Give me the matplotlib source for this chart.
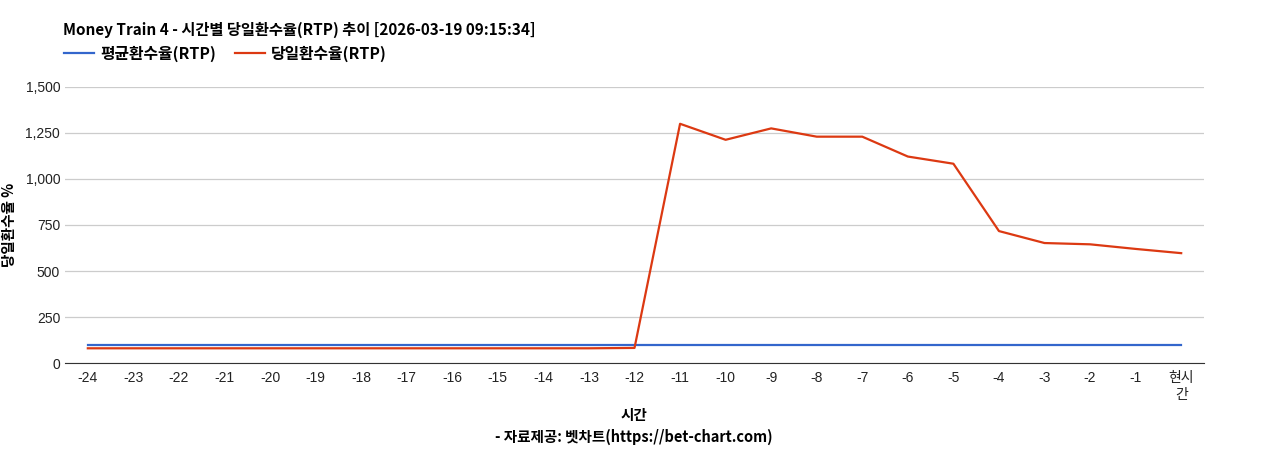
import matplotlib
matplotlib.use("Agg")
import matplotlib.pyplot as plt
from matplotlib.ticker import FuncFormatter

plt.rcParams['font.family'] = ['Liberation Sans', 'Noto Sans CJK KR', 'DejaVu Sans']
KR = ['Noto Sans CJK KR', 'DejaVu Sans']

# 시간 축 라벨
hours = ['-24', '-23', '-22', '-21', '-20', '-19', '-18', '-17', '-16', '-15', '-14', '-13',
         '-12', '-11', '-10', '-9', '-8', '-7', '-6', '-5', '-4', '-3', '-2', '-1', '현시\n간']
avg_rtp = [96] * 25
today_rtp = [80, 80, 80, 80, 80, 80, 80, 80, 80, 80, 80, 80,
             82, 1300, 1213, 1275, 1230, 1230, 1122, 1083, 717, 652, 645, 620, 597]

title = 'Money Train 4 - 시간별 당일환수율(RTP) 추이 [2026-03-19 09:15:34]'

fig = plt.figure(figsize=(12.68, 4.5), dpi=100)
ax = fig.add_axes([0.0513, 0.1933, 0.8982, 0.6134])

x = list(range(len(hours)))
ax.plot(x, avg_rtp, color='#3366cc', lw=1.6, label='평균환수율(RTP)')
ax.plot(x, today_rtp, color='#dc3912', lw=1.6, label='당일환수율(RTP)')

ax.set_xlim(-0.5, len(hours) - 0.5)
ax.set_ylim(0, 1500)
ax.set_yticks([0, 250, 500, 750, 1000, 1250, 1500])
ax.yaxis.set_major_formatter(FuncFormatter(lambda v, p: f"{int(v):,}"))
ax.set_xticks(x)
ax.set_xticklabels(hours, va='top')
ax.tick_params(axis='both', length=0, labelsize=10, colors='#222222')
ax.tick_params(axis='x', pad=6)
ax.grid(axis='y', color='#cccccc', lw=0.9)
ax.set_axisbelow(True)
for s in ['top', 'right', 'left']:
    ax.spines[s].set_visible(False)
ax.spines['bottom'].set_color('#333333')
ax.spines['bottom'].set_zorder(5)

ax.set_ylabel('당일환수율 %', fontsize=10.5, fontweight='bold', labelpad=6, family=KR)

fig.text(63 / 1268, 1 - 30 / 450, title, fontsize=11, fontweight='bold', va='center', ha='left',
         family=KR)
leg = fig.legend(loc='center left', bbox_to_anchor=(50 / 1268, 1 - 54 / 450), ncol=2,
                 frameon=False, handlelength=1.9, columnspacing=1.2, handletextpad=0.38,
                 prop={'weight': 'bold', 'size': 11.4, 'family': KR})
fig.text(0.5, 1 - 415 / 450, '시간', fontsize=10.5, fontweight='bold', ha='center', va='center',
         family=KR)
fig.text(0.5, 1 - 437 / 450, '- 자료제공: 벳차트(https://bet-chart.com)', fontsize=10.5,
         fontweight='bold', ha='center', va='center', family=KR)

fig.savefig('out.png', dpi=100)
